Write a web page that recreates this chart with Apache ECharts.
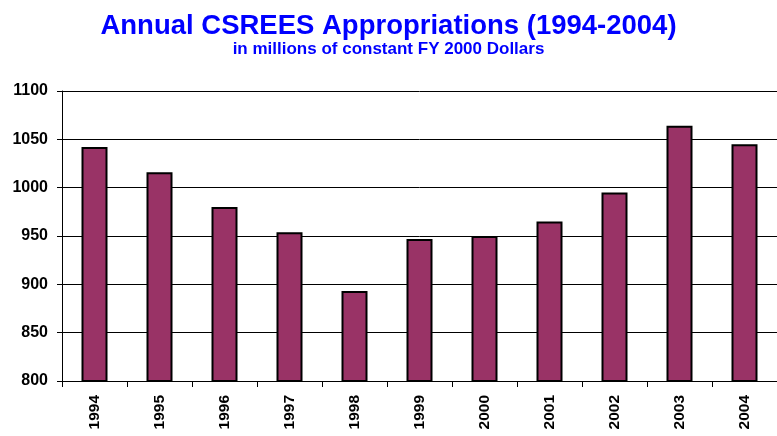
<!DOCTYPE html>
<html>
<head>
<meta charset="utf-8">
<script src="https://cdn.jsdelivr.net/npm/echarts@6/dist/echarts.min.js"></script>
<style>html,body{margin:0;padding:0;background:#fff}#c{width:777px;height:436px}</style>
</head>
<body>
<div id="c"></div>
<script>
const years = ['1994','1995','1996','1997','1998','1999','2000','2001','2002','2003','2004'];
const appropriations = [1042, 1016, 980, 954, 893, 947, 950, 965, 995, 1064, 1045];
const yTicks = [800, 850, 900, 950, 1000, 1050, 1100];

const chart = echarts.init(document.getElementById('c'));
chart.setOption({
  animation: false,
  title: {
    text: 'Annual CSREES Appropriations (1994-2004)',
    subtext: 'in millions of constant FY 2000 Dollars',
    left: 'center',
    top: 7,
    itemGap: 1,
    textStyle: {color: '#0000ff', fontFamily: 'Liberation Sans', fontWeight: 'bold', fontSize: 27.5},
    subtextStyle: {color: '#0000ff', fontFamily: 'Liberation Sans', fontWeight: 'bold', fontSize: 17}
  },
  grid: {left: 62, right: -2, top: 91, bottom: 55},
  xAxis: {
    type: 'category',
    data: years,
    axisLine: {lineStyle: {color: '#000', width: 1}},
    axisTick: {show: true, length: 6, lineStyle: {color: '#000'}},
    axisLabel: {rotate: 90, color: '#000', fontFamily: 'Liberation Sans', fontWeight: 'bold', fontSize: 15.5, margin: 14}
  },
  yAxis: {
    type: 'value',
    min: yTicks[0],
    max: yTicks[yTicks.length - 1],
    interval: 50,
    axisLine: {show: true, lineStyle: {color: '#000', width: 1}},
    axisTick: {show: true, length: 5, lineStyle: {color: '#000'}},
    splitLine: {lineStyle: {color: '#000', width: 1}},
    axisLabel: {color: '#000', fontFamily: 'Liberation Sans', fontWeight: 'bold', fontSize: 16, margin: 14,
      formatter: v => String(v)}
  },
  series: [{
    type: 'bar',
    data: appropriations,
    barWidth: '40%',
    itemStyle: {color: '#993366', borderColor: '#000', borderWidth: 2}
  }]
});
</script>
</body>
</html>
